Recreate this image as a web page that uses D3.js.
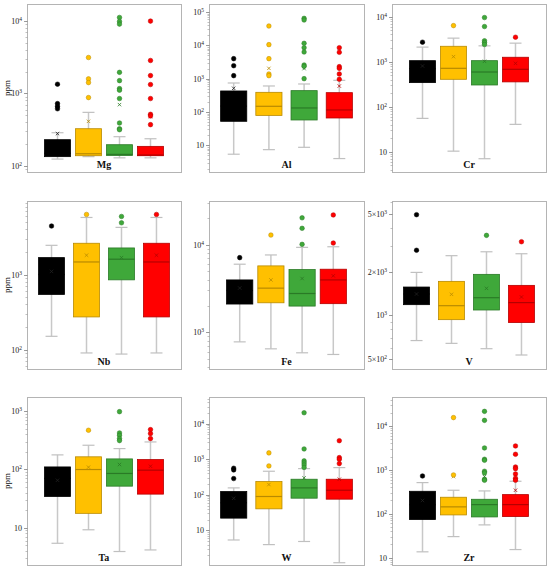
<!DOCTYPE html>
<html>
<head>
<meta charset="utf-8">
<script src="https://cdn.jsdelivr.net/npm/d3@7"></script>
<style>
  body { margin: 0; background: #fff; }
  text { font-family: 'Liberation Serif', 'Times New Roman', serif; }
</style>
</head>
<body>
<script>
// groups and their colours (fill, stroke / median)
const groups = ['G1', 'G2', 'G3', 'G4']
const fills = ['#000000', '#ffc000', '#3fa83a', '#ff0000']
const darks = ['#000000', '#b88a00', '#2a7a26', '#b50000']

const elements = ['Mg', 'Al', 'Cr', 'Nb', 'Fe', 'V', 'Ta', 'W', 'Zr']

// box stats per group: [lower whisker, q1, median, q3, upper whisker] (ppm)
const mgBox = [[125, 135, 150, 231, 288], [135, 139, 148, 327, 549], [130, 140, 145, 197, 254], [130, 139, 142, 187, 238]]
const mgMean = [280, 413, 701, 480]
const mgOut = [[1340, 725, 665, 615], [3120, 1585, 1410, 877], [11100, 9780, 8990, 1950, 1500, 1166, 1107, 850, 392, 327, 317], [9890, 2840, 1760, 1325, 850, 516, 490, 372]]

const alBox = [[5.4, 52.5, 150, 427, 741], [7.4, 79, 148, 389, 603], [8.7, 57.5, 132, 437, 692], [4.0, 66, 115, 380, 891]]
const alMean = [513, 2040, 2000, 600]
const alOut = [[3980, 2450, 1230], [38000, 10500, 3980, 1380, 1230], [64600, 57500, 11500, 8500, 6300, 2570, 2340, 1000], [8500, 6170, 2290, 2040, 1380, 955]]

const crBox = [[55, 342, 700, 1050, 2100], [10.3, 405, 710, 2190, 3320], [7, 303, 588, 1050, 2240], [40.5, 355, 675, 1250, 2570]]
const crMean = [800, 1290, 1015, 915]
const crOut = [[2700], [6300], [9500, 6000, 2900, 2650, 2400], [3480]]

const nbBox = [[150, 543, 1000, 1680, 2450], [90, 272, 1470, 2610, 5760], [87, 849, 1600, 2260, 4250], [90, 272, 1470, 2610, 5760]]
const nbMean = [1100, 1810, 1680, 1810]
const nbOut = [[4430], [6320], [5940, 4890], [6320]]

const feBox = [[776, 2100, 3000, 3960, 5990], [646, 2170, 3190, 5730, 7640], [582, 1990, 2770, 5200, 9330], [557, 2120, 3960, 5250, 9480]]
const feMean = [3200, 3960, 4110, 4410]
const feOut = [[7120], [12900], [20300, 15400, 10100], [21900, 10450]]

const vBox = [[670, 1183, 1400, 1564, 1972], [641, 933, 1164, 1711, 2570], [589, 1087, 1321, 1912, 2734], [533, 891, 1222, 1606, 2650]]
const vMean = [1400, 1393, 1531, 1336]
const vOut = [[4920, 2800], [], [3545], [3206]]

const taBox = [[5.4, 34.3, 70, 110, 177], [9.2, 17.6, 99.3, 164, 259], [3.9, 51.5, 85, 151, 227], [4.15, 37.6, 96.8, 147, 295]]
const taMean = [65, 109, 121, 113]
const taOut = [[], [468], [975, 421, 384, 337, 311], [480, 410, 337]]

const wBox = [[5.4, 22.2, 60, 124, 157], [4.0, 40.5, 90, 236, 461], [4.9, 80.7, 157, 275, 547], [1.24, 75.7, 135, 275, 583]]
const wMean = [80, 195, 300, 275]
const wOut = [[560, 502, 287], [1510, 650], [20300, 1950, 900, 790, 690, 590], [3330, 1114, 1000, 757]]

const zrBox = [[13.5, 73.5, 160, 324, 511], [30, 93.7, 143, 237, 342], [55.5, 84.3, 161, 213, 330], [15.2, 85.9, 161, 272, 548]]
const zrMean = [200, 700, 700, 342]
const zrOut = [[724], [15500, 764], [21500, 13400, 3150, 1740, 1650, 927, 850, 608, 577], [3500, 2260, 1160, 1064, 805, 641, 577]]

// y ticks shown per panel
const mgTicks = [1e2, 1e3, 1e4]
const alTicks = [10, 1e2, 1e3, 1e4, 1e5]
const crTicks = [10, 1e2, 1e3, 1e4]
const nbTicks = [1e2, 1e3]
const feTicks = [1e3, 1e4]
const vTicks = [500, 1000, 2000, 5000]
const taTicks = [10, 1e2, 1e3]
const wTicks = [10, 1e2, 1e3, 1e4]
const zrTicks = [10, 1e2, 1e3, 1e4]

// layout
const cols = [[27, 181], [209, 364], [392, 546]]
const rows = [[4, 172], [201, 369], [397, 565]]
const yDomains = [[83, 17000], [1.58, 174000], [3.55, 19000], [55, 9550], [380, 31600], [427, 6110], [2.29, 1740], [1.07, 56200], [6.76, 45700]]
const wide = [false, true, false, true, false, true, false, true, false]

const panels = elements.map((el, i) => ({
  el,
  box: [mgBox, alBox, crBox, nbBox, feBox, vBox, taBox, wBox, zrBox][i],
  mean: [mgMean, alMean, crMean, nbMean, feMean, vMean, taMean, wMean, zrMean][i],
  out: [mgOut, alOut, crOut, nbOut, feOut, vOut, taOut, wOut, zrOut][i],
  ticks: [mgTicks, alTicks, crTicks, nbTicks, feTicks, vTicks, taTicks, wTicks, zrTicks][i],
  col: i % 3,
  row: Math.floor(i / 3),
  dom: yDomains[i],
  wide: wide[i]
}))

const svg = d3.select('body').append('svg')
  .attr('width', 550)
  .attr('height', 570)

function tickLabel (g, v) {
  const k = Math.floor(Math.log10(v) + 1e-9)
  const m = Math.round(v / Math.pow(10, k))
  const t = g.append('text')
  if (m !== 1) t.append('tspan').text(m + '×')
  t.append('tspan').text('10')
  if (!(m === 1 && k === 1)) {
    t.append('tspan')
      .attr('dy', -3.5)
      .attr('font-size', 5.5)
      .text(k)
  }
  return t
}

panels.forEach(p => {
  const [x0, x1] = cols[p.col]
  const [y0, y1] = rows[p.row]

  const x = d3.scaleBand()
    .domain(groups)
    .range([x0, x1])
    .paddingInner(p.wide ? 0.257 : 0.16)
    .paddingOuter(p.wide ? 0.33 : 0.564)

  const y = d3.scaleLog()
    .domain(p.dom)
    .range([y1, y0])

  const g = svg.append('g')

  g.append('rect')
    .attr('x', x0 + 0.5)
    .attr('y', y0 + 0.5)
    .attr('width', x1 - x0)
    .attr('height', y1 - y0)
    .attr('fill', '#fff')
    .attr('stroke', '#b4b4b4')

  // minor ticks
  const lo = Math.floor(Math.log10(p.dom[0]))
  const hi = Math.ceil(Math.log10(p.dom[1]))
  const minor = []
  for (let k = lo; k <= hi; k++) {
    for (let m = 1; m < 10; m++) {
      const v = m * Math.pow(10, k)
      if (v >= p.dom[0] && v <= p.dom[1]) minor.push(v)
    }
  }
  g.selectAll('.minor').data(minor).enter().append('line')
    .attr('x1', x0 - 1.5).attr('x2', x0 + 0.5)
    .attr('y1', d => Math.round(y(d)) + 0.5)
    .attr('y2', d => Math.round(y(d)) + 0.5)
    .attr('stroke', '#999').attr('stroke-width', 0.6)

  p.ticks.forEach(v => {
    const yy = Math.round(y(v)) + 0.5
    g.append('line')
      .attr('x1', x0 - 3).attr('x2', x0 + 0.5)
      .attr('y1', yy).attr('y2', yy)
      .attr('stroke', '#888').attr('stroke-width', 0.8)
    tickLabel(g, v)
      .attr('x', x0 - 5)
      .attr('y', yy + 2.8)
      .attr('text-anchor', 'end')
      .attr('font-size', 8)
      .attr('fill', '#222')
  })

  const bw = x.bandwidth()
  const cap = 12

  const boxes = g.selectAll('.grp')
    .data(groups.map((d, i) => ({ name: d, i, s: p.box[i], mean: p.mean[i], out: p.out[i] })))
    .enter().append('g')

  // whiskers
  boxes.append('line')
    .attr('x1', d => x(d.name) + bw / 2).attr('x2', d => x(d.name) + bw / 2)
    .attr('y1', d => y(d.s[0])).attr('y2', d => y(d.s[4]))
    .attr('stroke', '#c8c8c8').attr('stroke-width', 1.5)

  boxes.selectAll('.cap').data(d => [d.s[0], d.s[4]].map(v => ({ v, name: d.name })))
    .enter().append('line')
    .attr('x1', d => x(d.name) + bw / 2 - cap / 2)
    .attr('x2', d => x(d.name) + bw / 2 + cap / 2)
    .attr('y1', d => y(d.v)).attr('y2', d => y(d.v))
    .attr('stroke', '#c0c0c0').attr('stroke-width', 1.2)

  boxes.append('rect')
    .attr('x', d => x(d.name))
    .attr('width', bw)
    .attr('y', d => y(d.s[3]))
    .attr('height', d => y(d.s[1]) - y(d.s[3]))
    .attr('fill', d => fills[d.i])
    .attr('stroke', d => darks[d.i])
    .attr('stroke-width', 0.8)

  boxes.append('line')
    .attr('x1', d => x(d.name)).attr('x2', d => x(d.name) + bw)
    .attr('y1', d => y(d.s[2])).attr('y2', d => y(d.s[2]))
    .attr('stroke', d => darks[d.i]).attr('stroke-width', 1.2)

  // mean marker
  boxes.append('path')
    .attr('d', d3.symbol(d3.symbolX, 9))
    .attr('transform', d => `translate(${x(d.name) + bw / 2},${y(d.mean)})`)
    .attr('fill', 'none')
    .attr('stroke', d => d.i === 0 ? '#222' : darks[d.i])
    .attr('stroke-width', 0.8)

  // outliers
  boxes.selectAll('.out').data(d => d.out.map(v => ({ v, name: d.name, i: d.i })))
    .enter().append('circle')
    .attr('cx', d => x(d.name) + bw / 2)
    .attr('cy', d => y(d.v))
    .attr('r', 2.3)
    .attr('fill', d => fills[d.i])
    .attr('stroke', d => darks[d.i])
    .attr('stroke-width', 0.5)

  g.append('text')
    .attr('x', (x0 + x1) / 2)
    .attr('y', y1 - 4)
    .attr('text-anchor', 'middle')
    .attr('font-size', 10)
    .attr('font-weight', 'bold')
    .attr('fill', '#111')
    .text(p.el)

  if (p.col === 0) {
    g.append('text')
      .attr('transform', `translate(10,${(y0 + y1) / 2}) rotate(-90)`)
      .attr('text-anchor', 'middle')
      .attr('font-size', 9)
      .attr('fill', '#111')
      .text('ppm')
  }
})
</script>
</body>
</html>
